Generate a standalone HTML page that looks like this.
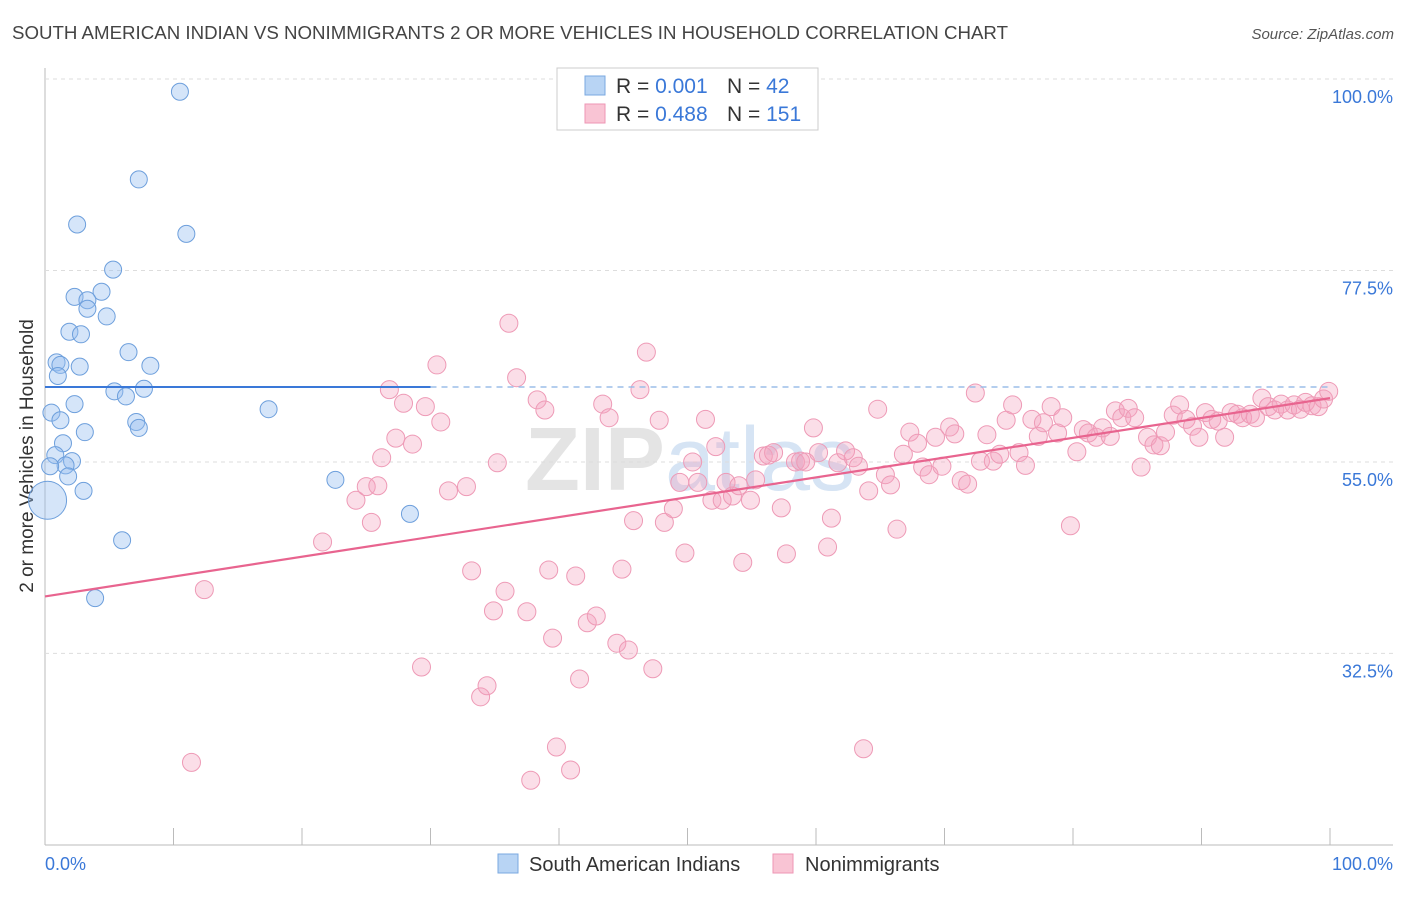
<!DOCTYPE html>
<html><head><meta charset="utf-8"><style>
body{margin:0;background:#fff;font-family:"Liberation Sans",sans-serif;}
svg text{font-family:"Liberation Sans",sans-serif;}
</style></head><body>
<svg id="chart" width="1406" height="892" xmlns="http://www.w3.org/2000/svg">
<text x="12" y="39" font-size="18" fill="#444" textLength="996" lengthAdjust="spacingAndGlyphs">SOUTH AMERICAN INDIAN VS NONIMMIGRANTS 2 OR MORE VEHICLES IN HOUSEHOLD CORRELATION CHART</text>
<text x="1394" y="39" font-size="15" fill="#555" text-anchor="end" font-style="italic">Source: ZipAtlas.com</text>
<text x="690" y="490" font-size="90" fill="#e4e4e4" text-anchor="middle" font-weight="bold">ZIP<tspan fill="#d6e4f4" font-weight="normal">atlas</tspan></text>
<text transform="translate(33,456) rotate(-90)" font-size="19" fill="#333" text-anchor="middle">2 or more Vehicles in Household</text>
<g id="grid"></g><g id="marks"></g>
<g>
<rect x="557" y="68" width="261" height="62" fill="#fff" stroke="#ccc"/>
<rect x="585" y="76" width="20" height="19" fill="#b8d4f4" stroke="#7aa8e0"/>
<rect x="585" y="104" width="20" height="19" fill="#f9c4d4" stroke="#ee96b4"/>
<text x="616" y="93" font-size="21" fill="#333">R = <tspan fill="#3a78d8">0.001</tspan></text>
<text x="727" y="93" font-size="21" fill="#333">N = <tspan fill="#3a78d8"> 42</tspan></text>
<text x="616" y="121" font-size="21" fill="#333">R = <tspan fill="#3a78d8">0.488</tspan></text>
<text x="727" y="121" font-size="21" fill="#333">N = <tspan fill="#3a78d8">151</tspan></text>
</g>
<g>
<rect x="498" y="854" width="20" height="19" fill="#b8d4f4" stroke="#7aa8e0"/>
<text x="529" y="871" font-size="20" fill="#333">South American Indians</text>
<rect x="773" y="854" width="20" height="19" fill="#f9c4d4" stroke="#ee96b4"/>
<text x="805" y="871" font-size="20" fill="#333">Nonimmigrants</text>
</g>
</svg>
<script>
const yTicks=[100,77.5,55,32.5];
const xTicks=[0,10,20,30,40,50,60,70,80,90,100];
const blueX=[10.5,7.3,2.5,11.0,5.3,2.3,4.4,3.3,3.3,4.8,1.9,2.8,0.9,1.2,6.5,8.2,2.7,1.0,5.4,7.7,6.3,2.3,0.5,1.2,17.4,7.1,7.3,3.1,1.4,0.8,2.1,1.6,0.4,1.8,22.6,3.0,0.2,28.4,6.0,3.9];
const blueY=[98.5,88.2,82.9,81.8,77.6,74.4,75.0,74.0,73.0,72.1,70.3,70.0,66.7,66.4,67.9,66.3,66.2,65.1,63.3,63.6,62.7,61.8,60.8,59.9,61.2,59.7,59.0,58.5,57.2,55.8,55.1,54.6,54.5,53.3,52.9,51.6,50.5,48.9,45.8,39.0];
const pinkX=[12.4,11.4,21.6,24.2,25.0,25.4,25.9,26.2,26.8,27.3,27.9,28.6,29.3,29.6,30.8,30.5,31.4,32.8,33.2,33.9,34.4,34.9,35.2,35.8,36.1,36.7,37.5,37.8,38.3,38.9,39.2,39.5,39.8,40.9,41.3,41.6,42.2,42.9,43.4,43.9,44.5,44.9,45.4,45.8,46.3,46.8,47.3,47.8,48.2,48.9,49.4,49.8,50.4,50.8,51.4,51.9,52.2,52.7,53.0,53.5,54.0,54.3,54.9,55.3,55.9,56.3,56.7,57.3,57.7,58.4,58.8,59.2,59.8,60.2,60.9,61.2,61.7,62.3,62.9,63.3,63.7,64.1,64.8,65.4,65.8,66.3,66.8,67.3,67.9,68.3,68.8,69.3,69.8,70.4,70.8,71.3,71.8,72.4,72.8,73.3,73.8,74.3,74.8,75.3,75.8,76.3,76.8,77.3,77.7,78.3,78.8,79.2,79.8,80.3,80.8,81.2,81.8,82.3,82.9,83.3,83.8,84.3,84.8,85.3,85.8,86.3,86.8,87.2,87.8,88.3,88.8,89.3,89.8,90.3,90.8,91.3,91.8,92.3,92.8,93.2,93.8,94.2,94.7,95.2,95.7,96.2,96.7,97.2,97.7,98.1,98.6,99.1,99.5,99.9];
const pinkY=[40.0,19.7,45.6,50.5,52.1,47.9,52.2,55.5,63.5,57.8,61.9,57.1,30.9,61.5,59.7,66.4,51.6,52.1,42.2,27.4,28.7,37.5,54.9,39.8,71.3,64.9,37.4,17.6,62.3,61.1,42.3,34.3,21.5,18.8,41.6,29.5,36.1,36.9,61.8,60.2,33.7,42.4,32.9,48.1,63.5,67.9,30.7,59.9,47.9,49.5,52.6,44.3,55.0,52.6,60.0,50.5,56.8,50.5,52.6,51.0,52.2,43.2,50.5,52.9,55.7,55.8,56.1,49.6,44.2,55.0,55.1,55.0,59.0,56.1,45.0,48.4,54.9,56.3,55.5,54.5,21.3,51.6,61.2,53.5,52.3,47.1,55.9,58.5,57.2,54.4,53.5,57.9,54.5,59.1,58.3,52.8,52.4,63.1,55.1,58.2,55.1,55.9,59.9,61.7,56.1,54.6,60.0,58.0,59.6,61.5,58.4,60.2,47.5,56.2,58.8,58.4,57.9,59.0,58.0,61.0,60.2,61.3,60.2,54.4,57.9,57.0,56.9,58.5,60.5,61.7,60.0,59.2,57.9,60.8,60.0,59.8,57.9,60.8,60.6,60.2,60.6,60.2,62.5,61.5,61.1,61.8,61.1,61.7,61.2,62.0,61.6,61.5,62.4,63.3];
const blueLine=[63.8,63.8];
const pinkLine=[39.2,62.5];
const X0=45,X1=1330,YT=79,PX=8.51;
const sx=v=>X0+(X1-X0)*v/100;
const sy=v=>YT+(100-v)*PX;
const NS="http://www.w3.org/2000/svg";
function mk(t,a,p){const e=document.createElementNS(NS,t);for(const k in a)e.setAttribute(k,a[k]);p.appendChild(e);return e;}
const g=document.getElementById('grid'),m=document.getElementById('marks');
mk('line',{x1:45,y1:68,x2:45,y2:845,stroke:'#bbb'},g);
mk('line',{x1:45,y1:845,x2:1393,y2:845,stroke:'#bbb'},g);
yTicks.forEach(v=>{
 const l=mk('line',{x1:45,y1:sy(v),x2:1393,y2:sy(v),stroke:'#ddd','stroke-dasharray':'4,4'},g);
 
 
 const t=mk('text',{x:1393,y:sy(v)+24,'font-size':18,fill:'#3a78d8','text-anchor':'end'},g);
 t.textContent=v.toFixed(1)+'%';
 
 
});
xTicks.forEach(v=>{
 const l=mk('line',{x1:sx(v),y1:828,x2:sx(v),y2:845,stroke:'#bbb'},g);
 
 
});
[[0,'0.0%','start',45],[100,'100.0%','end',1393]].forEach(a=>{
 const t=mk('text',{x:a[3],y:870,'font-size':18,fill:'#3a78d8','text-anchor':a[2]},g);
 t.textContent=a[1];
 
 
});
pinkX.forEach((x,i)=>{
 const c=mk('circle',{cx:sx(x),cy:sy(pinkY[i]),r:9,fill:'rgba(244,160,188,0.35)',stroke:'#ee9ab6','stroke-width':1},m);
 
 
});
blueX.forEach((x,i)=>{
 const c=mk('circle',{cx:sx(x),cy:sy(blueY[i]),r:i===36?19:8.5,fill:'rgba(150,190,240,0.4)',stroke:'#6d9fdc','stroke-width':1},m);
 
 
});
let l=mk('line',{x1:sx(0),y1:sy(pinkLine[0]),x2:sx(100),y2:sy(pinkLine[1]),stroke:'#e8648f','stroke-width':2.2},m);


l=mk('line',{x1:sx(0),y1:sy(blueLine[0]),x2:sx(30),y2:sy(blueLine[0]+(blueLine[1]-blueLine[0])*0.3),stroke:'#3a78d8','stroke-width':2},m);


l=mk('line',{x1:sx(30),y1:sy(blueLine[0]+(blueLine[1]-blueLine[0])*0.3),x2:sx(100),y2:sy(blueLine[1]),stroke:'#9bbde8','stroke-width':1.5,'stroke-dasharray':'6,5'},m);


</script>
</body></html>
